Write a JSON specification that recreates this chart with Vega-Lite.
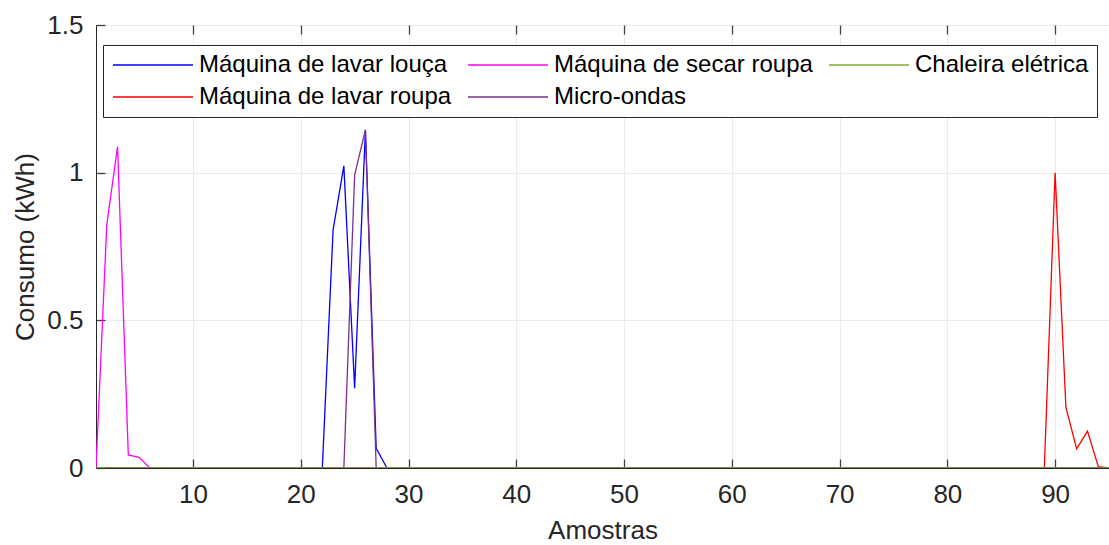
{
"$schema": "https://vega.github.io/schema/vega-lite/v6.json",
"width": 1013, "height": 443,
"autosize": {"type": "none"},
"padding": {"left": 96, "top": 25, "right": 0, "bottom": 77},
"background": "white",
"config": {"view": {"stroke": "#262626", "strokeWidth": 1}, "font": "Liberation Sans"},
"data": {"values": [
{"x":1,"Máquina de lavar louça":0,"Máquina de lavar roupa":0,"Máquina de secar roupa":0,"Micro-ondas":0,"Chaleira elétrica":0},
{"x":2,"Máquina de lavar louça":0,"Máquina de lavar roupa":0,"Máquina de secar roupa":0.823,"Micro-ondas":0,"Chaleira elétrica":0},
{"x":3,"Máquina de lavar louça":0,"Máquina de lavar roupa":0,"Máquina de secar roupa":1.088,"Micro-ondas":0,"Chaleira elétrica":0},
{"x":4,"Máquina de lavar louça":0,"Máquina de lavar roupa":0,"Máquina de secar roupa":0.044,"Micro-ondas":0,"Chaleira elétrica":0},
{"x":5,"Máquina de lavar louça":0,"Máquina de lavar roupa":0,"Máquina de secar roupa":0.036,"Micro-ondas":0,"Chaleira elétrica":0},
{"x":6,"Máquina de lavar louça":0,"Máquina de lavar roupa":0,"Máquina de secar roupa":0,"Micro-ondas":0,"Chaleira elétrica":0},
{"x":7,"Máquina de lavar louça":0,"Máquina de lavar roupa":0,"Máquina de secar roupa":0,"Micro-ondas":0,"Chaleira elétrica":0},
{"x":8,"Máquina de lavar louça":0,"Máquina de lavar roupa":0,"Máquina de secar roupa":0,"Micro-ondas":0,"Chaleira elétrica":0},
{"x":9,"Máquina de lavar louça":0,"Máquina de lavar roupa":0,"Máquina de secar roupa":0,"Micro-ondas":0,"Chaleira elétrica":0},
{"x":10,"Máquina de lavar louça":0,"Máquina de lavar roupa":0,"Máquina de secar roupa":0,"Micro-ondas":0,"Chaleira elétrica":0},
{"x":11,"Máquina de lavar louça":0,"Máquina de lavar roupa":0,"Máquina de secar roupa":0,"Micro-ondas":0,"Chaleira elétrica":0},
{"x":12,"Máquina de lavar louça":0,"Máquina de lavar roupa":0,"Máquina de secar roupa":0,"Micro-ondas":0,"Chaleira elétrica":0},
{"x":13,"Máquina de lavar louça":0,"Máquina de lavar roupa":0,"Máquina de secar roupa":0,"Micro-ondas":0,"Chaleira elétrica":0},
{"x":14,"Máquina de lavar louça":0,"Máquina de lavar roupa":0,"Máquina de secar roupa":0,"Micro-ondas":0,"Chaleira elétrica":0},
{"x":15,"Máquina de lavar louça":0,"Máquina de lavar roupa":0,"Máquina de secar roupa":0,"Micro-ondas":0,"Chaleira elétrica":0},
{"x":16,"Máquina de lavar louça":0,"Máquina de lavar roupa":0,"Máquina de secar roupa":0,"Micro-ondas":0,"Chaleira elétrica":0},
{"x":17,"Máquina de lavar louça":0,"Máquina de lavar roupa":0,"Máquina de secar roupa":0,"Micro-ondas":0,"Chaleira elétrica":0},
{"x":18,"Máquina de lavar louça":0,"Máquina de lavar roupa":0,"Máquina de secar roupa":0,"Micro-ondas":0,"Chaleira elétrica":0},
{"x":19,"Máquina de lavar louça":0,"Máquina de lavar roupa":0,"Máquina de secar roupa":0,"Micro-ondas":0,"Chaleira elétrica":0},
{"x":20,"Máquina de lavar louça":0,"Máquina de lavar roupa":0,"Máquina de secar roupa":0,"Micro-ondas":0,"Chaleira elétrica":0},
{"x":21,"Máquina de lavar louça":0,"Máquina de lavar roupa":0,"Máquina de secar roupa":0,"Micro-ondas":0,"Chaleira elétrica":0},
{"x":22,"Máquina de lavar louça":0,"Máquina de lavar roupa":0,"Máquina de secar roupa":0,"Micro-ondas":0,"Chaleira elétrica":0},
{"x":23,"Máquina de lavar louça":0.806,"Máquina de lavar roupa":0,"Máquina de secar roupa":0,"Micro-ondas":0,"Chaleira elétrica":0},
{"x":24,"Máquina de lavar louça":1.023,"Máquina de lavar roupa":0,"Máquina de secar roupa":0,"Micro-ondas":0,"Chaleira elétrica":0},
{"x":25,"Máquina de lavar louça":0.27,"Máquina de lavar roupa":0,"Máquina de secar roupa":0,"Micro-ondas":0.992,"Chaleira elétrica":0},
{"x":26,"Máquina de lavar louça":1.145,"Máquina de lavar roupa":0,"Máquina de secar roupa":0,"Micro-ondas":1.145,"Chaleira elétrica":0},
{"x":27,"Máquina de lavar louça":0.067,"Máquina de lavar roupa":0,"Máquina de secar roupa":0,"Micro-ondas":0,"Chaleira elétrica":0},
{"x":28,"Máquina de lavar louça":0,"Máquina de lavar roupa":0,"Máquina de secar roupa":0,"Micro-ondas":0,"Chaleira elétrica":0},
{"x":29,"Máquina de lavar louça":0,"Máquina de lavar roupa":0,"Máquina de secar roupa":0,"Micro-ondas":0,"Chaleira elétrica":0},
{"x":30,"Máquina de lavar louça":0,"Máquina de lavar roupa":0,"Máquina de secar roupa":0,"Micro-ondas":0,"Chaleira elétrica":0},
{"x":31,"Máquina de lavar louça":0,"Máquina de lavar roupa":0,"Máquina de secar roupa":0,"Micro-ondas":0,"Chaleira elétrica":0},
{"x":32,"Máquina de lavar louça":0,"Máquina de lavar roupa":0,"Máquina de secar roupa":0,"Micro-ondas":0,"Chaleira elétrica":0},
{"x":33,"Máquina de lavar louça":0,"Máquina de lavar roupa":0,"Máquina de secar roupa":0,"Micro-ondas":0,"Chaleira elétrica":0},
{"x":34,"Máquina de lavar louça":0,"Máquina de lavar roupa":0,"Máquina de secar roupa":0,"Micro-ondas":0,"Chaleira elétrica":0},
{"x":35,"Máquina de lavar louça":0,"Máquina de lavar roupa":0,"Máquina de secar roupa":0,"Micro-ondas":0,"Chaleira elétrica":0},
{"x":36,"Máquina de lavar louça":0,"Máquina de lavar roupa":0,"Máquina de secar roupa":0,"Micro-ondas":0,"Chaleira elétrica":0},
{"x":37,"Máquina de lavar louça":0,"Máquina de lavar roupa":0,"Máquina de secar roupa":0,"Micro-ondas":0,"Chaleira elétrica":0},
{"x":38,"Máquina de lavar louça":0,"Máquina de lavar roupa":0,"Máquina de secar roupa":0,"Micro-ondas":0,"Chaleira elétrica":0},
{"x":39,"Máquina de lavar louça":0,"Máquina de lavar roupa":0,"Máquina de secar roupa":0,"Micro-ondas":0,"Chaleira elétrica":0},
{"x":40,"Máquina de lavar louça":0,"Máquina de lavar roupa":0,"Máquina de secar roupa":0,"Micro-ondas":0,"Chaleira elétrica":0},
{"x":41,"Máquina de lavar louça":0,"Máquina de lavar roupa":0,"Máquina de secar roupa":0,"Micro-ondas":0,"Chaleira elétrica":0},
{"x":42,"Máquina de lavar louça":0,"Máquina de lavar roupa":0,"Máquina de secar roupa":0,"Micro-ondas":0,"Chaleira elétrica":0},
{"x":43,"Máquina de lavar louça":0,"Máquina de lavar roupa":0,"Máquina de secar roupa":0,"Micro-ondas":0,"Chaleira elétrica":0},
{"x":44,"Máquina de lavar louça":0,"Máquina de lavar roupa":0,"Máquina de secar roupa":0,"Micro-ondas":0,"Chaleira elétrica":0},
{"x":45,"Máquina de lavar louça":0,"Máquina de lavar roupa":0,"Máquina de secar roupa":0,"Micro-ondas":0,"Chaleira elétrica":0},
{"x":46,"Máquina de lavar louça":0,"Máquina de lavar roupa":0,"Máquina de secar roupa":0,"Micro-ondas":0,"Chaleira elétrica":0},
{"x":47,"Máquina de lavar louça":0,"Máquina de lavar roupa":0,"Máquina de secar roupa":0,"Micro-ondas":0,"Chaleira elétrica":0},
{"x":48,"Máquina de lavar louça":0,"Máquina de lavar roupa":0,"Máquina de secar roupa":0,"Micro-ondas":0,"Chaleira elétrica":0},
{"x":49,"Máquina de lavar louça":0,"Máquina de lavar roupa":0,"Máquina de secar roupa":0,"Micro-ondas":0,"Chaleira elétrica":0},
{"x":50,"Máquina de lavar louça":0,"Máquina de lavar roupa":0,"Máquina de secar roupa":0,"Micro-ondas":0,"Chaleira elétrica":0},
{"x":51,"Máquina de lavar louça":0,"Máquina de lavar roupa":0,"Máquina de secar roupa":0,"Micro-ondas":0,"Chaleira elétrica":0},
{"x":52,"Máquina de lavar louça":0,"Máquina de lavar roupa":0,"Máquina de secar roupa":0,"Micro-ondas":0,"Chaleira elétrica":0},
{"x":53,"Máquina de lavar louça":0,"Máquina de lavar roupa":0,"Máquina de secar roupa":0,"Micro-ondas":0,"Chaleira elétrica":0},
{"x":54,"Máquina de lavar louça":0,"Máquina de lavar roupa":0,"Máquina de secar roupa":0,"Micro-ondas":0,"Chaleira elétrica":0},
{"x":55,"Máquina de lavar louça":0,"Máquina de lavar roupa":0,"Máquina de secar roupa":0,"Micro-ondas":0,"Chaleira elétrica":0},
{"x":56,"Máquina de lavar louça":0,"Máquina de lavar roupa":0,"Máquina de secar roupa":0,"Micro-ondas":0,"Chaleira elétrica":0},
{"x":57,"Máquina de lavar louça":0,"Máquina de lavar roupa":0,"Máquina de secar roupa":0,"Micro-ondas":0,"Chaleira elétrica":0},
{"x":58,"Máquina de lavar louça":0,"Máquina de lavar roupa":0,"Máquina de secar roupa":0,"Micro-ondas":0,"Chaleira elétrica":0},
{"x":59,"Máquina de lavar louça":0,"Máquina de lavar roupa":0,"Máquina de secar roupa":0,"Micro-ondas":0,"Chaleira elétrica":0},
{"x":60,"Máquina de lavar louça":0,"Máquina de lavar roupa":0,"Máquina de secar roupa":0,"Micro-ondas":0,"Chaleira elétrica":0},
{"x":61,"Máquina de lavar louça":0,"Máquina de lavar roupa":0,"Máquina de secar roupa":0,"Micro-ondas":0,"Chaleira elétrica":0},
{"x":62,"Máquina de lavar louça":0,"Máquina de lavar roupa":0,"Máquina de secar roupa":0,"Micro-ondas":0,"Chaleira elétrica":0},
{"x":63,"Máquina de lavar louça":0,"Máquina de lavar roupa":0,"Máquina de secar roupa":0,"Micro-ondas":0,"Chaleira elétrica":0},
{"x":64,"Máquina de lavar louça":0,"Máquina de lavar roupa":0,"Máquina de secar roupa":0,"Micro-ondas":0,"Chaleira elétrica":0},
{"x":65,"Máquina de lavar louça":0,"Máquina de lavar roupa":0,"Máquina de secar roupa":0,"Micro-ondas":0,"Chaleira elétrica":0},
{"x":66,"Máquina de lavar louça":0,"Máquina de lavar roupa":0,"Máquina de secar roupa":0,"Micro-ondas":0,"Chaleira elétrica":0},
{"x":67,"Máquina de lavar louça":0,"Máquina de lavar roupa":0,"Máquina de secar roupa":0,"Micro-ondas":0,"Chaleira elétrica":0},
{"x":68,"Máquina de lavar louça":0,"Máquina de lavar roupa":0,"Máquina de secar roupa":0,"Micro-ondas":0,"Chaleira elétrica":0},
{"x":69,"Máquina de lavar louça":0,"Máquina de lavar roupa":0,"Máquina de secar roupa":0,"Micro-ondas":0,"Chaleira elétrica":0},
{"x":70,"Máquina de lavar louça":0,"Máquina de lavar roupa":0,"Máquina de secar roupa":0,"Micro-ondas":0,"Chaleira elétrica":0},
{"x":71,"Máquina de lavar louça":0,"Máquina de lavar roupa":0,"Máquina de secar roupa":0,"Micro-ondas":0,"Chaleira elétrica":0},
{"x":72,"Máquina de lavar louça":0,"Máquina de lavar roupa":0,"Máquina de secar roupa":0,"Micro-ondas":0,"Chaleira elétrica":0},
{"x":73,"Máquina de lavar louça":0,"Máquina de lavar roupa":0,"Máquina de secar roupa":0,"Micro-ondas":0,"Chaleira elétrica":0},
{"x":74,"Máquina de lavar louça":0,"Máquina de lavar roupa":0,"Máquina de secar roupa":0,"Micro-ondas":0,"Chaleira elétrica":0},
{"x":75,"Máquina de lavar louça":0,"Máquina de lavar roupa":0,"Máquina de secar roupa":0,"Micro-ondas":0,"Chaleira elétrica":0},
{"x":76,"Máquina de lavar louça":0,"Máquina de lavar roupa":0,"Máquina de secar roupa":0,"Micro-ondas":0,"Chaleira elétrica":0},
{"x":77,"Máquina de lavar louça":0,"Máquina de lavar roupa":0,"Máquina de secar roupa":0,"Micro-ondas":0,"Chaleira elétrica":0},
{"x":78,"Máquina de lavar louça":0,"Máquina de lavar roupa":0,"Máquina de secar roupa":0,"Micro-ondas":0,"Chaleira elétrica":0},
{"x":79,"Máquina de lavar louça":0,"Máquina de lavar roupa":0,"Máquina de secar roupa":0,"Micro-ondas":0,"Chaleira elétrica":0},
{"x":80,"Máquina de lavar louça":0,"Máquina de lavar roupa":0,"Máquina de secar roupa":0,"Micro-ondas":0,"Chaleira elétrica":0},
{"x":81,"Máquina de lavar louça":0,"Máquina de lavar roupa":0,"Máquina de secar roupa":0,"Micro-ondas":0,"Chaleira elétrica":0},
{"x":82,"Máquina de lavar louça":0,"Máquina de lavar roupa":0,"Máquina de secar roupa":0,"Micro-ondas":0,"Chaleira elétrica":0},
{"x":83,"Máquina de lavar louça":0,"Máquina de lavar roupa":0,"Máquina de secar roupa":0,"Micro-ondas":0,"Chaleira elétrica":0},
{"x":84,"Máquina de lavar louça":0,"Máquina de lavar roupa":0,"Máquina de secar roupa":0,"Micro-ondas":0,"Chaleira elétrica":0},
{"x":85,"Máquina de lavar louça":0,"Máquina de lavar roupa":0,"Máquina de secar roupa":0,"Micro-ondas":0,"Chaleira elétrica":0},
{"x":86,"Máquina de lavar louça":0,"Máquina de lavar roupa":0,"Máquina de secar roupa":0,"Micro-ondas":0,"Chaleira elétrica":0},
{"x":87,"Máquina de lavar louça":0,"Máquina de lavar roupa":0,"Máquina de secar roupa":0,"Micro-ondas":0,"Chaleira elétrica":0},
{"x":88,"Máquina de lavar louça":0,"Máquina de lavar roupa":0,"Máquina de secar roupa":0,"Micro-ondas":0,"Chaleira elétrica":0},
{"x":89,"Máquina de lavar louça":0,"Máquina de lavar roupa":0,"Máquina de secar roupa":0,"Micro-ondas":0,"Chaleira elétrica":0},
{"x":90,"Máquina de lavar louça":0,"Máquina de lavar roupa":1.0,"Máquina de secar roupa":0,"Micro-ondas":0,"Chaleira elétrica":0},
{"x":91,"Máquina de lavar louça":0,"Máquina de lavar roupa":0.205,"Máquina de secar roupa":0,"Micro-ondas":0,"Chaleira elétrica":0},
{"x":92,"Máquina de lavar louça":0,"Máquina de lavar roupa":0.065,"Máquina de secar roupa":0,"Micro-ondas":0,"Chaleira elétrica":0},
{"x":93,"Máquina de lavar louça":0,"Máquina de lavar roupa":0.125,"Máquina de secar roupa":0,"Micro-ondas":0,"Chaleira elétrica":0},
{"x":94,"Máquina de lavar louça":0,"Máquina de lavar roupa":0.005,"Máquina de secar roupa":0,"Micro-ondas":0,"Chaleira elétrica":0},
{"x":95,"Máquina de lavar louça":0,"Máquina de lavar roupa":0,"Máquina de secar roupa":0,"Micro-ondas":0,"Chaleira elétrica":0}
]},
"transform": [{"fold": ["Máquina de lavar louça","Máquina de lavar roupa","Máquina de secar roupa","Micro-ondas","Chaleira elétrica"], "as": ["serie","valor"]}],
"layer": [
{
"mark": {"type": "line", "strokeWidth": 1.3, "clip": true},
"encoding": {
"x": {"field": "x", "type": "quantitative",
 "scale": {"domain": [1, 95], "nice": false, "zero": false},
 "axis": {"title": "Amostras", "values": [10,20,30,40,50,60,70,80,90], "grid": true, "gridColor": "#ebebeb",
  "tickSize": -9, "tickWidth": 1.3, "tickColor": "#404040", "domainColor": "#262626", "labelFontSize": 26, "labelColor": "#262626",
  "labelPadding": 22, "titleFontSize": 26, "titleFontWeight": "normal", "titleColor": "#262626", "titlePadding": 10, "labelFont": "Liberation Sans", "titleFont": "Liberation Sans"}},
"y": {"field": "valor", "type": "quantitative",
 "scale": {"domain": [0, 1.5], "nice": false},
 "axis": {"title": "Consumo (kWh)", "values": [0, 0.5, 1, 1.5], "format": "~g", "grid": true, "gridColor": "#ebebeb",
  "tickSize": -9, "tickWidth": 1.3, "tickColor": "#404040", "domainColor": "#262626", "labelFontSize": 26, "labelColor": "#262626",
  "labelPadding": 22, "titleFontSize": 26, "titleFontWeight": "normal", "titleColor": "#262626", "titlePadding": 8, "labelFont": "Liberation Sans", "titleFont": "Liberation Sans"}},
"color": {"field": "serie", "type": "nominal",
 "scale": {"domain": ["Máquina de lavar louça","Máquina de secar roupa","Chaleira elétrica","Máquina de lavar roupa","Micro-ondas"],
  "range": ["#0000ff","#ff00ff","#77ac30","#ff0000","#7e2f8e"]},
 "legend": {"title": null, "orient": "none", "legendX": 7, "legendY": 20, "direction": "horizontal", "columns": 3,
  "symbolType": "M-2,0L14,0", "symbolSize": 100, "symbolStrokeWidth": 1.5, "labelFontSize": 24, "labelFont": "Liberation Sans",
  "labelColor": "#000000", "labelOffset": 64, "columnPadding": 13, "rowPadding": 8, "padding": 8,
  "fillColor": "white", "strokeColor": "#262626", "labelLimit": 0, "symbolOpacity": 1}}
}
},
{
"mark": {"type": "line", "opacity": 0},
"encoding": {
"x": {"field": "x", "type": "quantitative",
 "axis": {"orient": "top", "title": null, "labels": false, "grid": false, "domain": false, "values": [10,20,30,40,50,60,70,80,90], "tickSize": -9, "tickWidth": 1.3, "tickColor": "#404040"}}
}
}
],
"resolve": {"axis": {"x": "independent"}}
}
